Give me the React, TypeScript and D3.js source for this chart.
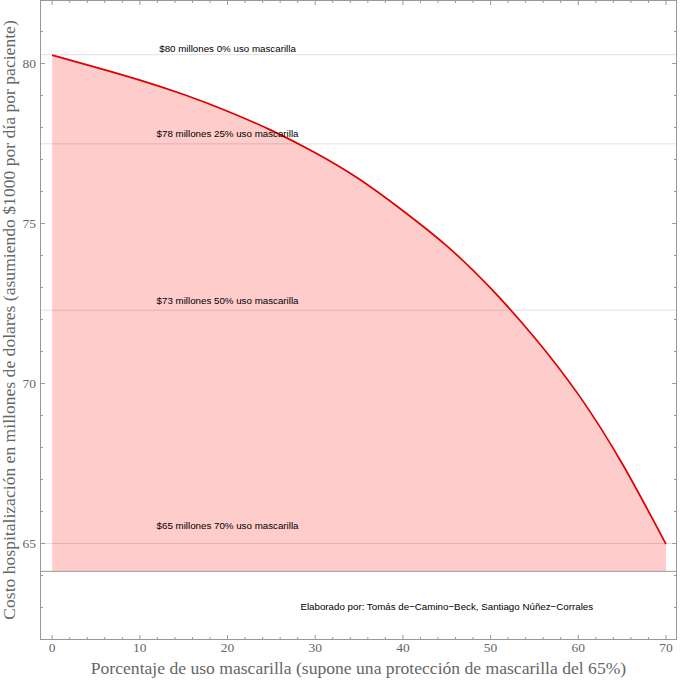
import React from "react";
import * as d3 from "d3";

// Mask usage (%) and hospitalisation cost (millions of dollars)
const maskUse: number[] = [0, 5, 10, 15, 20, 25, 30, 35, 40, 45, 50, 55, 60, 65, 70];
const cost: number[] = [80.26, 79.88, 79.48, 79.03, 78.51, 77.91, 77.21, 76.39, 75.4, 74.3, 72.98, 71.44, 69.66, 67.5, 64.98];

// Horizontal reference lines
const refLines: number[] = [80.275, 77.49, 72.29, 65.0];
// Axis crossing (fill base)
const axisOrigin = 64.13;

// Annotations (data coordinates)
const labelTexts: string[] = [
  "$80 millones 0% uso mascarilla",
  "$78 millones 25% uso mascarilla",
  "$73 millones 50% uso mascarilla",
  "$65 millones 70% uso mascarilla",
  "Elaborado por: Tomás de\u2212Camino\u2212Beck, Santiago Núñez\u2212Corrales",
];
const labelX: number[] = [20, 20, 20, 20, 45];
const labelY: number[] = [80.36, 77.69, 72.49, 65.44, 62.91];

const xMajor: number[] = [0, 10, 20, 30, 40, 50, 60, 70];
const yMajor: number[] = [65, 70, 75, 80];

const xTitle = "Porcentaje de uso mascarilla (supone una protección de mascarilla del 65%)";
const yTitle = "Costo hospitalización en millones de dolares (asumiendo $1000 por día por paciente)";

export default function App() {
  const W = 680, H = 680;
  const x = d3.scaleLinear().domain([-1.33, 71.2]).range([40.5, 676.5]);
  const y = d3.scaleLinear().domain([62, 82]).range([639.5, -0.5]);

  const pts = maskUse.map((m, i) => [m, cost[i]] as [number, number]);
  const line = d3.line<[number, number]>().x(d => x(d[0])).y(d => y(d[1])).curve(d3.curveNatural);
  const area = d3.area<[number, number]>().x(d => x(d[0])).y0(y(axisOrigin)).y1(d => y(d[1])).curve(d3.curveNatural);

  const left = x(-1.33), right = x(71.2), top = 0.5, bottom = y(62);
  const frameColor = "#999";
  const tickColor = "#999";

  const xMinor = d3.range(2, 70, 2).filter(v => v % 10 !== 0);
  const yMinor = d3.range(63, 82, 1).filter(v => v % 5 !== 0);
  const maj = 4.5, mnr = 2.5;
  const serif = "'Liberation Serif', 'Times New Roman', serif";

  return (
    <div style={{ position: "absolute", left: 0, top: 0 }}>
      <svg width={W} height={H} style={{ display: "block", background: "#fff" }}>
        <path d={area(pts) || ""} fill="#ffcccc" stroke="none" />
        {refLines.map((v, i) => (
          <line key={"g" + i} x1={left} x2={right} y1={y(v)} y2={y(v)} stroke="#000" strokeOpacity={0.12} strokeWidth={1} />
        ))}
        <line x1={left} x2={right} y1={y(axisOrigin)} y2={y(axisOrigin)} stroke="#999" strokeWidth={1} />
        <path d={line(pts) || ""} fill="none" stroke="#dd0000" strokeWidth={1.7} />

        {labelTexts.map((t, i) => (
          <text key={"l" + i} x={x(labelX[i])} y={y(labelY[i])} textAnchor="middle"
            fontFamily="'Liberation Sans', Arial, sans-serif" fontSize={9.75} fill="#000">{t}</text>
        ))}

        {/* frame */}
        <rect x={left} y={top} width={right - left} height={bottom - top} fill="none" stroke={frameColor} strokeWidth={1} />

        {/* x ticks bottom & top */}
        {xMajor.map(v => (
          <g key={"xm" + v}>
            <line x1={x(v)} x2={x(v)} y1={bottom} y2={bottom - maj} stroke={tickColor} />
            <line x1={x(v)} x2={x(v)} y1={top} y2={top + maj} stroke={tickColor} />
            <text x={x(v)} y={652} textAnchor="middle" fontFamily={serif} fontSize={13.5} fill="#666">{v}</text>
          </g>
        ))}
        {xMinor.map(v => (
          <g key={"xn" + v}>
            <line x1={x(v)} x2={x(v)} y1={bottom} y2={bottom - mnr} stroke={tickColor} />
            <line x1={x(v)} x2={x(v)} y1={top} y2={top + mnr} stroke={tickColor} />
          </g>
        ))}

        {/* y ticks left & right */}
        {yMajor.map(v => (
          <g key={"ym" + v}>
            <line x1={left} x2={left + maj} y1={y(v)} y2={y(v)} stroke={tickColor} />
            <line x1={right} x2={right - maj} y1={y(v)} y2={y(v)} stroke={tickColor} />
            <text x={36} y={y(v)} dy="0.35em" textAnchor="end" fontFamily={serif} fontSize={13.5} fill="#666">{v}</text>
          </g>
        ))}
        {yMinor.map(v => (
          <g key={"yn" + v}>
            <line x1={left} x2={left + mnr} y1={y(v)} y2={y(v)} stroke={tickColor} />
            <line x1={right} x2={right - mnr} y1={y(v)} y2={y(v)} stroke={tickColor} />
          </g>
        ))}

        {/* axis titles */}
        <text x={(left + right) / 2} y={674} textAnchor="middle" fontFamily={serif} fontSize={17.6} fill="#666">{xTitle}</text>
        <text transform={`translate(15, ${(top + bottom) / 2}) rotate(-90)`} textAnchor="middle"
          fontFamily={serif} fontSize={17.6} fill="#666">{yTitle}</text>
      </svg>
    </div>
  );
}
